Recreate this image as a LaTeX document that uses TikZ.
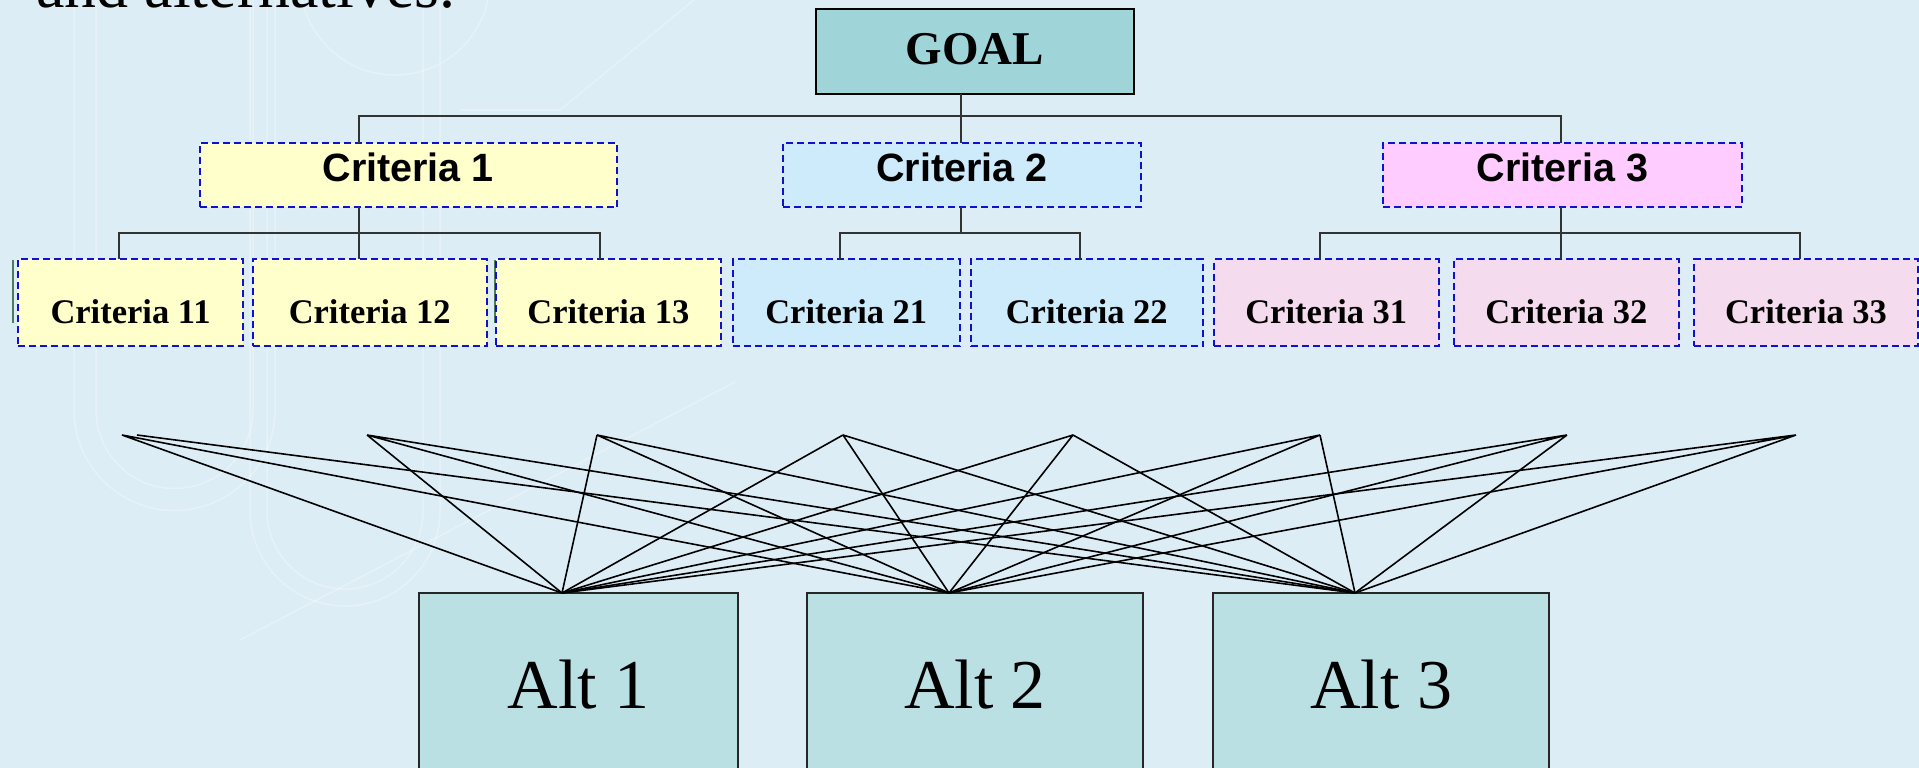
\documentclass[tikz,border=0pt]{standalone}
\usepackage{fontspec}
\setmainfont{Liberation Serif}
\newfontfamily\arialfont{Liberation Sans}
\definecolor{bgcol}{HTML}{DDEDF5}
\definecolor{goalfill}{HTML}{9FD4D8}
\definecolor{altfill}{HTML}{BAE0E3}
\definecolor{yelfill}{HTML}{FFFFCC}
\definecolor{bluefill}{HTML}{CDEBFB}
\definecolor{pinkfill}{HTML}{FFCCFF}
\definecolor{pinklight}{HTML}{F5DBEE}
\definecolor{dashblue}{HTML}{1010D0}
\definecolor{treegray}{HTML}{333333}
\definecolor{hidgreen}{HTML}{4E7D5E}
\begin{document}
\begin{tikzpicture}[x=1pt,y=-1pt,
  goalbox/.style={draw=black, line width=2pt, fill=goalfill, inner sep=0pt, outer sep=0pt,
    font=\fontsize{47}{50}\selectfont\bfseries, text height=26.6pt, text depth=0pt},
  topcrit/.style={draw=dashblue, line width=2pt, dash pattern=on 7pt off 4pt, inner sep=0pt, outer sep=0pt,
    minimum height=64pt, font=\arialfont\fontsize{39.5}{42}\selectfont\bfseries, text height=13.4pt, text depth=0pt},
  subcrit/.style={draw=dashblue, line width=2pt, dash pattern=on 7pt off 4pt, inner sep=0pt, outer sep=0pt,
    minimum height=86.7pt, font=\fontsize{34.5}{37}\selectfont\bfseries, text height=41.3pt, text depth=0pt},
  altbox/.style={draw=black!85, line width=2pt, fill=altfill, inner sep=0pt, outer sep=0pt,
    minimum height=207pt, font=\fontsize{70}{74}\selectfont, text height=23.6pt, text depth=0pt},
  tree/.style={draw=treegray, line width=2pt},
  web/.style={draw=black, line width=1.6pt},
  hidden/.style={draw=hidgreen, line width=2.5pt},
  wmark/.style={draw=white, line width=1.5pt, opacity=0.3}
]
\useasboundingbox (0,0) rectangle (1919,768);
\clip (0,0) rectangle (1919,768);
\fill[bgcol] (0,0) rectangle (1919,768);
% faint background watermark
\draw[wmark] (74,-20) -- (74,410) arc[start angle=180, end angle=0, radius=100.5] -- (275,-20);
\draw[wmark] (96,-20) -- (96,410) arc[start angle=180, end angle=0, radius=78.5] -- (253,-20);
\draw[wmark] (250,-20) -- (250,511) arc[start angle=180, end angle=0, radius=95] -- (440,-20);
\draw[wmark] (267,-20) -- (267,511) arc[start angle=180, end angle=0, radius=78] -- (423,-20);
\draw[wmark] (240,640) -- (735,382);
\draw[wmark] (300,-20) arc[start angle=180, end angle=0, radius=95];
\draw[wmark] (460,110) -- (560,110) -- (700,-5);

% intro text (cut by the top edge)
\node[anchor=base west, inner sep=0pt, font=\fontsize{64}{68}\selectfont] (intro) at (36,8) {and alternatives.};

% hidden box edges
\draw[hidden] (13,260) -- (13,323);
\draw[hidden] (495,260) -- (495,323);

% goal
\node[goalbox, minimum width=318pt, minimum height=85pt] (goal) at (975,51.5) {GOAL};

% level-1 criteria
\node[topcrit, fill=yelfill, minimum width=417.5pt] (c1) at (408.25,175) {Criteria 1};
\node[topcrit, fill=bluefill, minimum width=358pt] (c2) at (962,175) {Criteria 2};
\node[topcrit, fill=pinkfill, minimum width=359pt] (c3) at (1562.5,175) {Criteria 3};

% level-2 criteria
\node[subcrit, fill=yelfill, minimum width=225.6pt] (c11) at (130.5,302.65) {Criteria 11};
\node[subcrit, fill=yelfill, minimum width=234pt] (c12) at (369.7,302.65) {Criteria 12};
\node[subcrit, fill=yelfill, minimum width=225.3pt] (c13) at (608.35,302.65) {Criteria 13};
\node[subcrit, fill=bluefill, minimum width=226.5pt] (c21) at (846.25,302.65) {Criteria 21};
\node[subcrit, fill=bluefill, minimum width=232.5pt] (c22) at (1086.75,302.65) {Criteria 22};
\node[subcrit, fill=pinklight, minimum width=224.5pt] (c31) at (1326.25,302.65) {Criteria 31};
\node[subcrit, fill=pinklight, minimum width=225.4pt] (c32) at (1566.3,302.65) {Criteria 32};
\node[subcrit, fill=pinklight, minimum width=224pt] (c33) at (1806,302.65) {Criteria 33};

% alternatives
\node[altbox, minimum width=318.4pt] (a1) at (578.5,696.5) {Alt 1};
\node[altbox, minimum width=336pt] (a2) at (975,696.5) {Alt 2};
\node[altbox, minimum width=336.3pt] (a3) at (1381.15,696.5) {Alt 3};

% tree connectors
\coordinate (k1) at (359,116);
\coordinate (k2) at (961,116);
\coordinate (k3) at (1560.5,116);
\draw[tree] (k2 |- goal.south) -- (k2 |- c2.north);
\draw[tree] (k1 |- c1.north) -- (k1) -- (k3) -- (k3 |- c3.north);

\coordinate (h11) at (119,232.5);
\coordinate (h12) at (359,232.5);
\coordinate (h13) at (599.7,232.5);
\draw[tree] (h11 |- c11.north) -- (h11) -- (h13) -- (h13 |- c13.north);
\draw[tree] (h12 |- c1.south) -- (h12 |- c12.north);

\coordinate (h21) at (839.6,232.5);
\coordinate (h20) at (961,232.5);
\coordinate (h22) at (1079.5,232.5);
\draw[tree] (h21 |- c21.north) -- (h21) -- (h22) -- (h22 |- c22.north);
\draw[tree] (h20 |- c2.south) -- (h20);

\coordinate (h31) at (1320,232.5);
\coordinate (h32) at (1560.5,232.5);
\coordinate (h33) at (1800,232.5);
\draw[tree] (h31 |- c31.north) -- (h31) -- (h33) -- (h33 |- c33.north);
\draw[tree] (h32 |- c3.south) -- (h32 |- c32.north);

% criteria-to-alternative web
\coordinate (s11a) at (122,435);
\coordinate (s11b) at (137,435);
\coordinate (s12) at (367,435);
\coordinate (s13) at (597,435);
\coordinate (s21) at (843,435);
\coordinate (s22) at (1073,435);
\coordinate (s31) at (1320,435);
\coordinate (s32) at (1567,435);
\coordinate (s33) at (1796,435);
\coordinate (e1) at (562,593);
\coordinate (e2) at (949,593);
\coordinate (e3) at (1355,593);
\draw[web] (s11a) -- (e1) (s11a) -- (e2) (s11b) -- (e3);
\foreach \s in {s12,s13,s21,s22,s31,s32,s33}{
  \draw[web] (\s) -- (e1) (\s) -- (e2) (\s) -- (e3);
}
\end{tikzpicture}
\end{document}
